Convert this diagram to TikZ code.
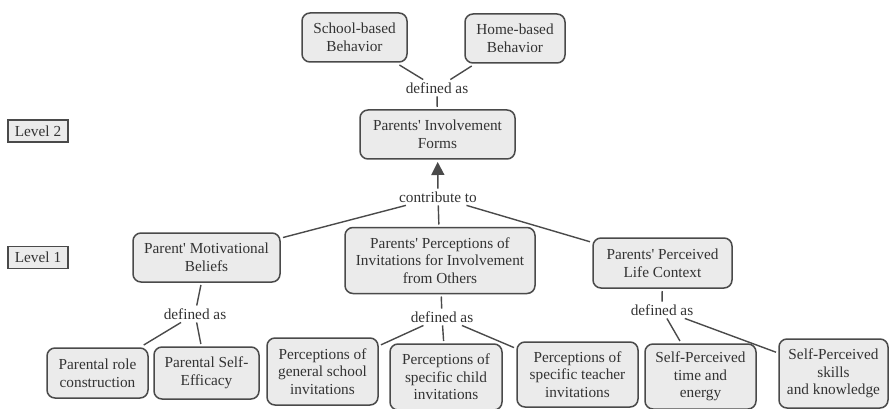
\documentclass[tikz,border=0pt]{standalone}
\usepackage{fontspec}
\setmainfont{Liberation Serif}
\usetikzlibrary{arrows.meta}
\definecolor{boxfill}{HTML}{EBEBEB}
\definecolor{boxline}{HTML}{4A4A4A}
\definecolor{txt}{HTML}{333333}
\newcommand{\dfont}{\fontsize{15.3}{17.6}\selectfont}
\newcommand{\q}{\textquotesingle}
\begin{document}
\begin{tikzpicture}[x=1pt,y=-1pt,
  concept/.style={draw=boxline, fill=boxfill, line width=1.5pt, rounded corners=8pt,
    align=center, inner sep=0pt, outer sep=3pt, text=txt, font=\dfont},
  link/.style={align=center, inner sep=1pt, outer sep=2pt, text=txt, font=\dfont},
  level/.style={draw=boxline, fill=boxfill, line width=1.5pt, inner sep=0pt,
    minimum width=60pt, minimum height=22pt, text=txt, font=\dfont},
  conn/.style={draw=boxline, line width=1.4pt}]
\useasboundingbox[fill=white] (0,0) rectangle (889,409);

% level labels
\node[level] (lv2) at (38,131) {Level 2};
\node[level] (lv1) at (38,257.5) {Level 1};

% top
\node[concept, minimum width=105pt, minimum height=49pt] (sb) at (354.5,37.5) {School-based\\Behavior};
\node[concept, minimum width=100pt, minimum height=49pt] (hb) at (515,38.5) {Home-based\\Behavior};
\node[link] (d1) at (437,88) {defined as};
\node[concept, minimum width=155pt, minimum height=49pt] (pif) at (437.5,134.5) {Parents\q{} Involvement\\Forms};
\node[link] (ct) at (438,197) {contribute to};

% level 1
\node[concept, minimum width=147pt, minimum height=49pt] (pmb) at (206.5,257.5) {Parent\q{} Motivational\\Beliefs};
\node[concept, minimum width=190pt, minimum height=66pt] (ppi) at (440,260.5) {Parents\q{} Perceptions of\\Invitations for Involvement\\from Others};
\node[concept, minimum width=139pt, minimum height=50pt] (pplc) at (662.5,263) {Parents\q{} Perceived\\Life Context};

\node[link] (d2) at (195,314) {defined as};
\node[link] (d3) at (442,317) {defined as};
\node[link] (d4) at (662,310) {defined as};

% bottom
\node[concept, minimum width=101pt, minimum height=50pt] (prc) at (97.5,373) {Parental role\\construction};
\node[concept, minimum width=105pt, minimum height=52pt] (pse) at (206.5,373) {Parental Self-\\Efficacy};
\node[concept, minimum width=111pt, minimum height=67pt] (pgs) at (322.5,371.5) {Perceptions of\\general school\\invitations};
\node[concept, minimum width=112pt, minimum height=66pt] (psc) at (446,377) {Perceptions of\\specific child\\invitations};
\node[concept, minimum width=121pt, minimum height=65pt] (pst) at (577.5,374.5) {Perceptions of\\specific teacher\\invitations};
\node[concept, minimum width=111pt, minimum height=65pt] (ste) at (700.5,376.5) {Self-Perceived\\time and\\energy};
\node[concept, minimum width=109pt, minimum height=69pt] (ssk) at (833.5,373.5) {Self-Perceived\\skills\\and knowledge};

% connectors
\draw[conn] (d1) -- (sb);
\draw[conn] (d1) -- (hb);
\draw[conn] (d1) -- (pif);
\draw[conn, -{Triangle[length=13pt,width=13pt]}] (ct) -- (pif);
\draw[conn] (ct) -- (pmb);
\draw[conn] (ct) -- (ppi);
\draw[conn] (ct) -- (pplc);

\draw[conn] (pmb) -- (d2);
\draw[conn] (d2) -- (prc);
\draw[conn] (d2) -- (pse);

\draw[conn] (ppi) -- (d3);
\draw[conn] (d3) -- (pgs);
\draw[conn] (d3) -- (psc);
\draw[conn] (d3) -- (pst);

\draw[conn] (pplc) -- (d4);
\draw[conn] (d4) -- (ste);
\draw[conn] (d4) -- (ssk);
\end{tikzpicture}
\end{document}
